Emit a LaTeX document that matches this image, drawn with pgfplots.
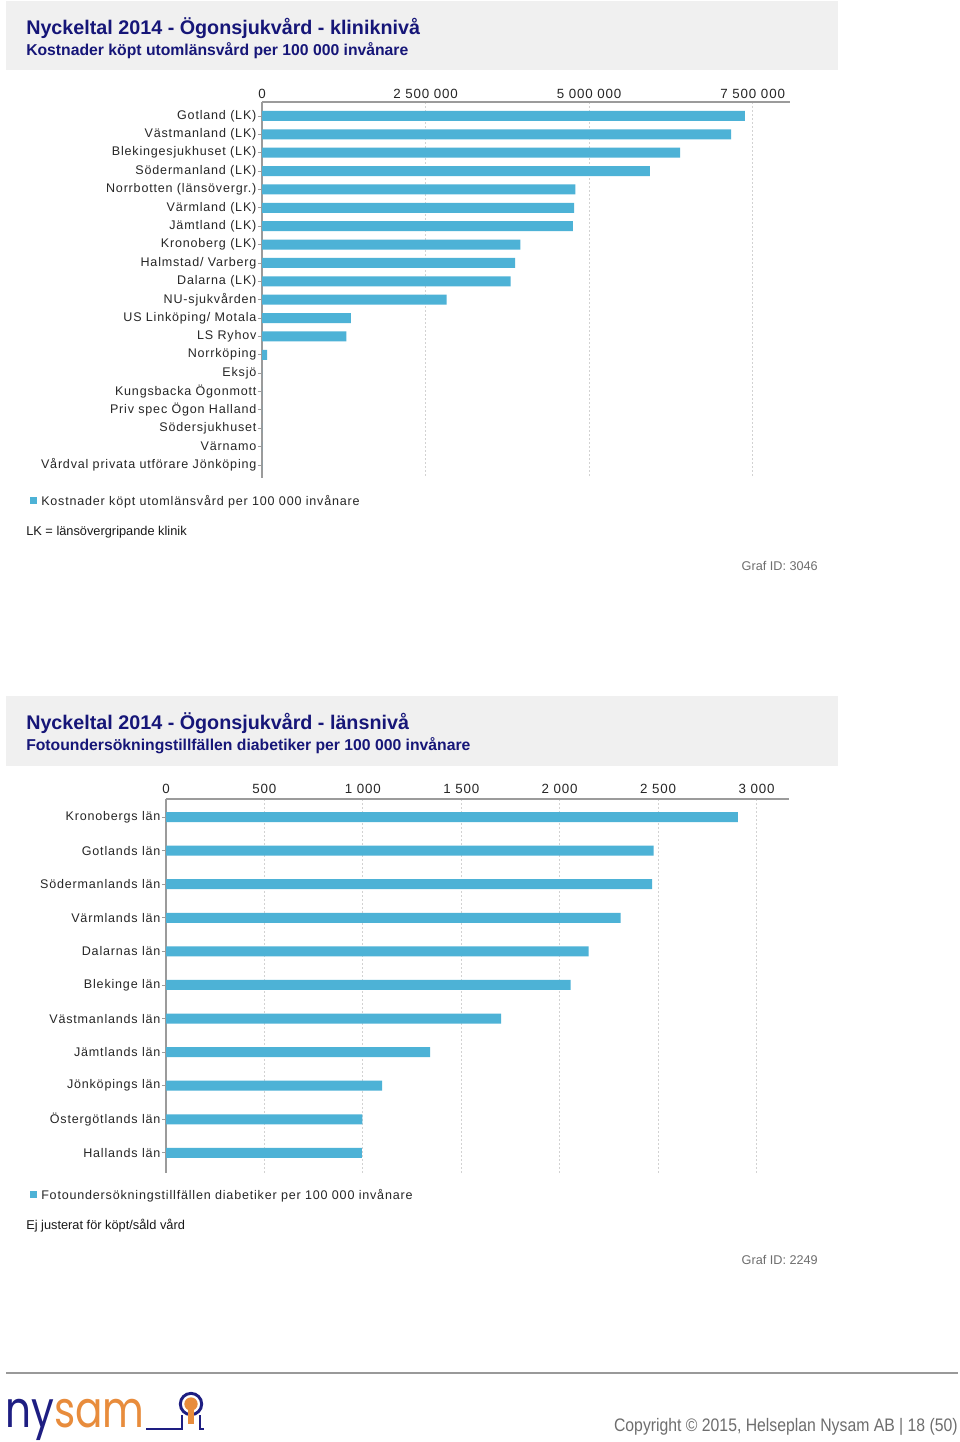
\documentclass[border=0pt]{standalone}
\usepackage{fontspec}
\setmainfont{Liberation Sans}
\newfontfamily\lsp[LetterSpace=6.5]{Liberation Sans}
\newfontfamily\logofont{Poppins}
\usepackage{pgfplots}
\usepackage{pgfplotstable}
\pgfplotsset{compat=1.18}
\definecolor{barblue}{RGB}{77,178,214}
\definecolor{navy}{RGB}{22,22,120}
\definecolor{hdrgray}{RGB}{240,240,240}
\definecolor{axgray}{RGB}{155,155,155}
\definecolor{gridgray}{RGB}{210,210,210}
\definecolor{logonavy}{RGB}{30,30,130}
\definecolor{logoorange}{RGB}{232,140,60}
\definecolor{txtgray}{RGB}{110,110,110}

\pgfplotstableread{
pos value
0 7380000
1 7170000
2 6390000
3 5930000
4 4790000
5 4770000
6 4750000
7 3950000
8 3870000
9 3800000
10 2820000
11 1360000
12 1290000
13 80000
14 0
15 0
16 0
17 0
18 0
19 0
}\kliniktable

\pgfplotstableread{
pos value
0 2905
1 2477
2 2470
3 2309
4 2147
5 2055
6 1703
7 1342
8 1098
9 997
10 995
}\lanstable

\pgfplotsset{
  barchart/.style={
    scale only axis, y dir=reverse, xbar, bar width=7.5pt,
    axis x line*=top, axis y line*=left,
    axis line style={axgray, line width=1pt},
    xmajorgrids, grid style={gridgray, dash pattern=on 1.5pt off 1.5pt, line width=0.6pt},
    tick align=outside, major tick length=3pt,
    xtick style={draw=none}, ytick style={axgray, line width=0.6pt},
    ytick={0,...,30},
    ticklabel style={font=\lsp\fontsize{9.4}{11}\selectfont, text=black!85},
    yticklabel style={inner xsep=1pt},
    xticklabel style={inner ysep=2pt, font=\lsp\fontsize{10}{12}\selectfont},
    scaled x ticks=false,
  }
}

\begin{document}
\begin{tikzpicture}
\begin{scope}[x=0.75pt,y=-0.75pt]
\path[use as bounding box] (0,0) rectangle (960,1442);
\fill[white] (0,0) rectangle (960,1442);
% header 1
\fill[hdrgray] (6,1) rectangle (838,70);
\node[anchor=base west, inner sep=0, text=navy, font=\bfseries\fontsize{14.8}{17}\selectfont] at (26,34) {Nyckeltal 2014 - Ögonsjukvård - kliniknivå};
\node[anchor=base west, inner sep=0, text=navy, font=\bfseries\fontsize{11.8}{14}\selectfont] at (26,55) {Kostnader köpt utomlänsvård per 100 000 invånare};
% legend 1 and notes
\fill[barblue] (30,497) rectangle (37,504);
\node[anchor=base west, inner sep=0, font=\lsp\fontsize{9.4}{11}\selectfont, text=black!85] at (41,505.5) {Kostnader köpt utomlänsvård per 100 000 invånare};
\node[anchor=base west, inner sep=0, font=\fontsize{9.6}{11}\selectfont, text=black!90] at (26,535.5) {LK = länsövergripande klinik};
\node[anchor=base east, inner sep=0, font=\fontsize{9.5}{11}\selectfont, text=txtgray] at (818,570.5) {Graf ID: 3046};
% header 2
\fill[hdrgray] (6,696) rectangle (838,766);
\node[anchor=base west, inner sep=0, text=navy, font=\bfseries\fontsize{14.8}{17}\selectfont] at (26,729) {Nyckeltal 2014 - Ögonsjukvård - länsnivå};
\node[anchor=base west, inner sep=0, text=navy, font=\bfseries\fontsize{11.8}{14}\selectfont] at (26,750.5) {Fotoundersökningstillfällen diabetiker per 100 000 invånare};
% legend 2 and notes
\fill[barblue] (30,1191) rectangle (37,1198);
\node[anchor=base west, inner sep=0, font=\lsp\fontsize{9.4}{11}\selectfont, text=black!85] at (41,1199.5) {Fotoundersökningstillfällen diabetiker per 100 000 invånare};
\node[anchor=base west, inner sep=0, font=\fontsize{9.6}{11}\selectfont, text=black!90] at (26,1229.5) {Ej justerat för köpt/såld vård};
\node[anchor=base east, inner sep=0, font=\fontsize{9.5}{11}\selectfont, text=txtgray] at (818,1264.5) {Graf ID: 2249};
% footer
\draw[black!40, line width=1.5pt] (6,1373) -- (958,1373);
\node[anchor=base west, inner sep=0, font=\logofont\fontsize{38}{42}\selectfont] at (5,1427) {\scalebox{0.8}[1]{\textcolor{logonavy}{ny}\textcolor{logoorange}{sam}}};
\draw[logonavy, line width=2.2pt] (146,1429) -- (182,1429) -- (182,1415);
\draw[logonavy, line width=2.2pt] (200,1415) -- (200,1429) -- (204,1429);
\draw[logonavy, line width=2.2pt] (191,1404) circle[radius=8pt];
\fill[logoorange] (191,1404) circle[radius=5pt];
\fill[logoorange] (188,1406) rectangle (194,1424);
\node[anchor=base east, inner sep=0, font=\fontsize{13.6}{15}\selectfont, text=txtgray] at (958,1431) {\scalebox{0.87}[1]{Copyright © 2015, Helseplan Nysam AB \textbar{} 18 (50)}};
\end{scope}

\begin{axis}[barchart,
  at={(196.5pt,-76.5pt)}, anchor=north west,
  width=396pt, height=282pt,
  xmin=0, xmax=8070000, ymin=-0.76, ymax=19.71,
  xticklabel style={yshift=-3pt},
  xtick={0,2500000,5000000,7500000},
  xticklabels={0,2 500 000,5 000 000,7 500 000},
  yticklabels={Gotland (LK),Västmanland (LK),Blekingesjukhuset (LK),Södermanland (LK),Norrbotten (länsövergr.),Värmland (LK),Jämtland (LK),Kronoberg (LK),Halmstad/ Varberg,Dalarna (LK),NU-sjukvården,US Linköping/ Motala,LS Ryhov,Norrköping,Eksjö,Kungsbacka Ögonmott,Priv spec Ögon Halland,Södersjukhuset,Värnamo,Vårdval privata utförare Jönköping},
]
\addplot[fill=barblue, draw=none] table[x=value, y=pos] {\kliniktable};
\end{axis}

\begin{axis}[barchart,
  at={(124.5pt,-599.25pt)}, anchor=north west,
  width=467.25pt, height=280.5pt,
  xmin=0, xmax=3165, ymin=-0.536, ymax=10.6,
  xticklabel style={yshift=-1.5pt},
  xtick={0,500,1000,1500,2000,2500,3000},
  xticklabels={0,500,1 000,1 500,2 000,2 500,3 000},
  yticklabels={Kronobergs län,Gotlands län,Södermanlands län,Värmlands län,Dalarnas län,Blekinge län,Västmanlands län,Jämtlands län,Jönköpings län,Östergötlands län,Hallands län},
]
\addplot[fill=barblue, draw=none] table[x=value, y=pos] {\lanstable};
\end{axis}
\end{tikzpicture}
\end{document}
